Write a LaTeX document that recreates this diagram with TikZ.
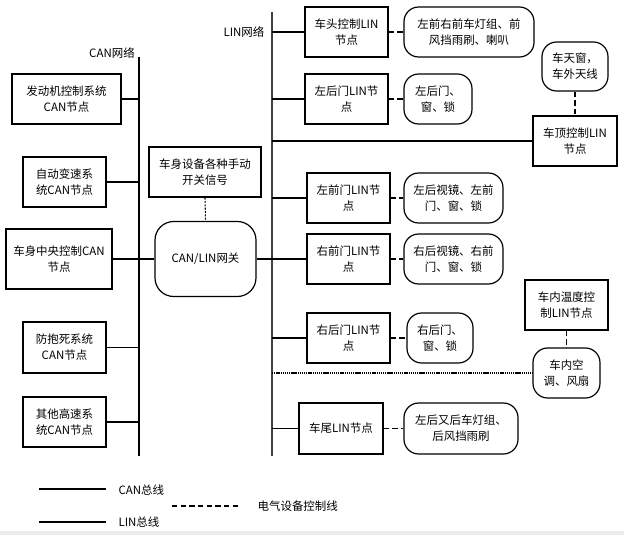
\documentclass[tikz,border=0pt]{standalone}
\usepackage{fontspec}
\setmainfont{Noto Sans CJK SC}
\begin{document}
\begin{tikzpicture}[x=0.75pt,y=-0.75pt,
  font=\fontsize{8.6}{12}\selectfont,
  sz/.style 2 args={minimum width=#1*0.75pt, minimum height=#2*0.75pt},
  box/.style={draw, line width=0.9pt, align=center, inner sep=0pt},
  dev/.style={box, rounded corners=11pt},
  canbus/.style={line width=1.6pt},
  canlink/.style={line width=1.4pt},
  canthin/.style={line width=0.9pt},
  linbus/.style={line width=0.8pt, black!75},
  linlink/.style={line width=1.2pt},
  ctrl/.style={line width=1.2pt, dash pattern=on 4pt off 2.5pt},
  lbl/.style={inner sep=1pt}
]
\useasboundingbox (0,0) rectangle (624,535);
\fill[black!8] (0,531) rectangle (624,535);

% bus coordinates
\coordinate (canTop) at (139,57);
\coordinate (canBot) at (139,456);
\coordinate (linTop) at (272,12);
\coordinate (linBot) at (272,456);

\node[lbl] (canlabel) at (112,53) {CAN网络};
\node[lbl] (linlabel) at (244,32) {LIN网络};

% CAN nodes
\node[box, sz={109}{50}] (can1) at (66.5,99) {发动机控制系统\\CAN节点};
\node[box, sz={83}{50}] (can2) at (64.5,182) {自动变速系\\统CAN节点};
\node[box, sz={106}{60}] (can3) at (59,259) {车身中央控制CAN\\节点};
\node[box, sz={83}{51}] (can4) at (64.5,347.5) {防抱死系统\\CAN节点};
\node[box, sz={83}{50}] (can5) at (64.5,422) {其他高速系\\统CAN节点};

\node[box, sz={112}{50}] (sw) at (205,172) {车身设备各种手动\\开关信号};
\node[box, sz={101}{75}, rounded corners=14pt] (gw) at (205.5,259) {CAN/LIN网关};

% LIN nodes
\node[box, sz={83}{50}] (l1) at (346.5,32) {车头控制LIN\\节点};
\node[dev, sz={130}{50}] (d1) at (469,32) {左前右前车灯组、前\\风挡雨刷、喇叭};
\node[box, sz={83}{50}] (l2) at (346.5,99) {左后门LIN节\\点};
\node[dev, sz={68}{50}] (d2) at (438,99) {左后门、\\窗、锁};
\node[dev, sz={66}{49}] (sky) at (575,66.5) {车天窗，\\车外天线};
\node[box, sz={84}{50}] (roof) at (575,141) {车顶控制LIN\\节点};
\node[box, sz={83}{50}] (l3) at (348.5,198) {左前门LIN节\\点};
\node[dev, sz={99}{50}] (d3) at (453.5,198) {左后视镜、左前\\门、窗、锁};
\node[box, sz={83}{50}] (l4) at (348.5,259) {右前门LIN节\\点};
\node[dev, sz={99}{50}] (d4) at (453.5,259) {右后视镜、右前\\门、窗、锁};
\node[box, sz={83}{50}] (l5) at (348.5,338) {右后门LIN节\\点};
\node[dev, sz={66}{50}] (d5) at (440,338) {右后门、\\窗、锁};
\node[box, sz={83}{50}] (temp) at (566.5,305) {车内温度控\\制LIN节点};
\node[dev, sz={67}{50}] (ac) at (566.5,373) {车内空\\调、风扇};
\node[box, sz={84}{51}] (l6) at (341,428.5) {车尾LIN节点};
\node[dev, sz={114}{51}] (d6) at (461,428.5) {左后又后车灯组、\\后风挡雨刷};

% buses
\draw[canbus] (canTop) -- (canBot);
\draw[linbus] (linTop) -- (linBot);

% CAN links
\draw[canlink] (can1.east) -- (can1.east -| canTop);
\draw[canthin] (can2.east) -- (can2.east -| canTop);
\draw[canlink] (can3.east) -- (gw.west |- can3.east);
\draw[canthin] (can4.east) -- (can4.east -| canTop);
\draw[canlink] (can5.east) -- (can5.east -| canTop);
\draw[line width=0.8pt, dash pattern=on 1.5pt off 1pt] (sw.south) -- (gw.north);

% gateway to LIN
\draw[line width=0.8pt] (gw.east |- l4.west) -- (l4.west);

% LIN links
\draw[linlink] (l1.west -| linTop) -- (l1.west);
\draw[linlink] (l2.west -| linTop) -- (l2.west);
\draw[linlink] (roof.west -| linTop) -- (roof.west);
\draw[linlink] (l3.west -| linTop) -- (l3.west);
\draw[linlink] (l5.west -| linTop) -- (l5.west);
\draw[line width=1.5pt, dash pattern=on 1pt off 0.6pt] (ac.west -| linTop) -- (ac.west);
\draw[linlink] (l6.west -| linTop) -- (l6.west);

% control lines
\draw[ctrl] (l1.east) -- (d1.west);
\draw[ctrl] (l2.east) -- (d2.west);
\draw[ctrl] (l3.east) -- (d3.west);
\draw[ctrl] (l4.east) -- (d4.west);
\draw[ctrl] (l5.east) -- (d5.west);
\draw[ctrl] (l6.east) -- (d6.west);
\draw[ctrl, line width=0.9pt] (sky.south) -- (roof.north);
\draw[ctrl, line width=0.9pt] (temp.south) -- (ac.north);

% legend
\coordinate (lgA1) at (39,489);
\coordinate (lgA2) at (106,489);
\coordinate (lgB1) at (39,522);
\coordinate (lgB2) at (106,522);
\coordinate (lgC1) at (172,506);
\coordinate (lgC2) at (239,506);
\draw[canbus] (lgA1) -- (lgA2);
\draw[line width=0.9pt] (lgB1) -- (lgB2);
\draw[ctrl] (lgC1) -- (lgC2);
\node[lbl, anchor=west] (lgAt) at (117,490) {CAN总线};
\node[lbl, anchor=west] (lgBt) at (117,522) {LIN总线};
\node[lbl, anchor=west] (lgCt) at (256,506) {电气设备控制线};
\end{tikzpicture}
\end{document}
